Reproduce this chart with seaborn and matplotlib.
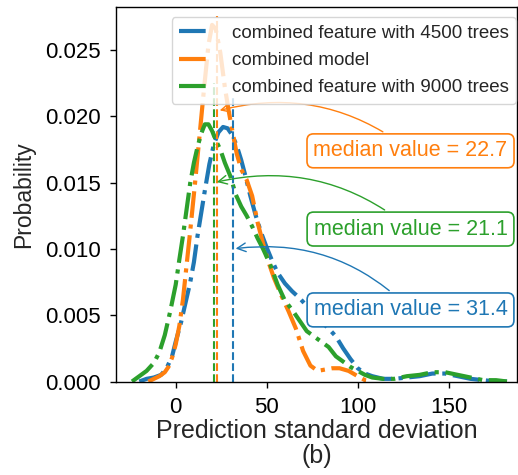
import matplotlib
matplotlib.use("Agg")
import matplotlib.pyplot as plt
import numpy as np
import pandas as pd
import seaborn as sns

# Density curves of the prediction standard deviation
labels = ["combined feature with 4500 trees", "combined model", "combined feature with 9000 trees"]
colors = ["#1f77b4", "#ff7f0e", "#2ca02c"]

x_4500 = [-20, -16, -12, -8, -5, -2, 0, 3, 5, 8, 10, 12, 14, 16, 18.5, 21, 23.5, 26, 28.5, 31,
          33.5, 36, 38.5, 41, 44, 47, 50, 53, 56, 60, 64, 68, 72, 76, 80, 84, 88, 92, 96, 100,
          104, 108, 114, 120, 127, 134, 141, 148, 155, 162, 169, 176, 182]
y_4500 = [0.0000, 0.0002, 0.0003, 0.0005, 0.0010, 0.0019, 0.0030, 0.0045, 0.0057, 0.0075, 0.0090,
          0.0110, 0.0127, 0.0144, 0.0164, 0.0179, 0.0188, 0.0192, 0.0191, 0.0186,
          0.0178, 0.0167, 0.0154, 0.0140, 0.0125, 0.0112, 0.0101, 0.0091, 0.0082, 0.0074,
          0.0068, 0.0063, 0.0057, 0.0050, 0.0045, 0.0040, 0.0034, 0.0025, 0.0017, 0.0010,
          0.0006, 0.0004, 0.0002, 0.0002, 0.0003, 0.0004, 0.0006, 0.0006, 0.0004, 0.0002,
          0.0001, 0.0000, 0.0000]

x_comb = [-15, -12, -9, -6, -4, -2, 0, 2, 4, 6, 8, 10.5, 13, 15.5, 18, 20, 22, 24.5, 27, 29,
          31, 33.5, 36, 39, 42, 45, 48, 51, 54, 58, 62, 66, 70, 74, 78, 82, 86, 90, 95, 100,
          104, 108]
y_comb = [0.0000, 0.0002, 0.0004, 0.0007, 0.0011, 0.0018, 0.0028, 0.0042, 0.0062, 0.0088,
          0.0114, 0.0148, 0.0184, 0.0220, 0.0254, 0.0269, 0.0266, 0.0248, 0.0222, 0.0205,
          0.0190, 0.0172, 0.0160, 0.0152, 0.0140, 0.0120, 0.0104, 0.0090, 0.0078, 0.0065,
          0.0053, 0.0040, 0.0023, 0.0012, 0.0008, 0.0009, 0.0010, 0.0010, 0.0008, 0.0004,
          0.0001, 0.0000]

x_9000 = [-24, -20, -16, -12, -9, -6, -3, 0, 2, 4, 6, 8, 10, 12, 14, 16, 18, 20, 22, 24.5, 27,
          30, 33, 36, 39, 42, 45, 48, 52, 56, 60, 64, 68, 72, 76, 80, 84, 88, 92, 96, 100,
          104, 108, 114, 120, 127, 134, 141, 148, 155, 162, 169, 176, 182]
y_9000 = [0.0000, 0.0004, 0.0008, 0.0014, 0.0022, 0.0035, 0.0053, 0.0073, 0.0092, 0.0110,
          0.0130, 0.0150, 0.0165, 0.0177, 0.0187, 0.0194, 0.0194, 0.0189, 0.0182, 0.0175,
          0.0165, 0.0155, 0.0141, 0.0132, 0.0125, 0.0117, 0.0108, 0.0100, 0.0088, 0.0073,
          0.0061, 0.0054, 0.0046, 0.0038, 0.0034, 0.0030, 0.0026, 0.0019, 0.0015, 0.0011,
          0.0008, 0.0005, 0.0003, 0.0002, 0.0002, 0.0004, 0.0005, 0.0007, 0.0007, 0.0005,
          0.0003, 0.0001, 0.0001, 0.0000]

# Medians (4500 trees, combined model, 9000 trees) and the heights of their marker lines
medians = [31.4, 22.7, 21.1]
median_tops = [0.0215, 0.0276, 0.0225]
# Where each median arrow points, and where its label sits
arrow_y = [0.0100, 0.0204, 0.0150]
label_pos = [(129, 0.0054), (129, 0.0174), (129, 0.0115)]

sns.set_theme(style="ticks", rc={
    "axes.edgecolor": "black",
    "axes.linewidth": 1.0,
    "xtick.color": "black",
    "ytick.color": "black",
})
plt.rcParams["font.family"] = ["Liberation Sans", "DejaVu Sans"]

fig = plt.figure(figsize=(5.18, 4.75), dpi=100)
ax = fig.add_axes([116 / 518, 1 - 381.5 / 475, (517 - 116) / 518, (381.5 - 7) / 475])

series = [(x_4500, y_4500), (x_comb, y_comb), (x_9000, y_9000)]
for (xs, ys), lab, col in zip(series, labels, colors):
    df = pd.DataFrame({"x": xs, "y": ys})
    sns.lineplot(data=df, x="x", y="y", ax=ax, color=col, linestyle="-.",
                 linewidth=3, label=lab, legend=False)

for m, top, col in zip(medians, median_tops, colors):
    ax.vlines(m, 0, top, colors=col, linestyles="--", linewidth=1.5)

for m, ay, (tx, ty), col in zip(medians, arrow_y, label_pos, colors):
    ax.annotate(f"median value = {m}", xy=(m, ay), xytext=(tx, ty),
                ha="center", va="center", fontsize=15.5, color=col,
                bbox=dict(boxstyle="round,pad=0.3", fc="white", ec=col, lw=1.2),
                arrowprops=dict(arrowstyle="->", color=col, lw=1.0,
                                connectionstyle="arc3,rad=0.25"))

ax.set_xlim(-32.8, 187.5)
ax.set_ylim(0, 0.02825)
ax.set_xticks([0, 50, 100, 150])
ax.set_yticks([0.0, 0.005, 0.010, 0.015, 0.020, 0.025])
ax.yaxis.set_major_formatter(matplotlib.ticker.FormatStrFormatter("%.3f"))
ax.tick_params(labelsize=16, length=4.5, width=1, pad=6.5)
ax.set_xlabel("Prediction standard deviation\n(b)", fontsize=18, linespacing=1.05, labelpad=1)
ax.set_ylabel("Probability", fontsize=16.5, labelpad=7)

ax.legend(loc="upper right", bbox_to_anchor=(516 / 518, 1 - 17 / 475),
          bbox_transform=fig.transFigure, borderaxespad=0, fontsize=13.5,
          labelspacing=0.55, handlelength=1.7, handletextpad=1.1, framealpha=0.8)

fig.savefig("out.png", dpi=100)
